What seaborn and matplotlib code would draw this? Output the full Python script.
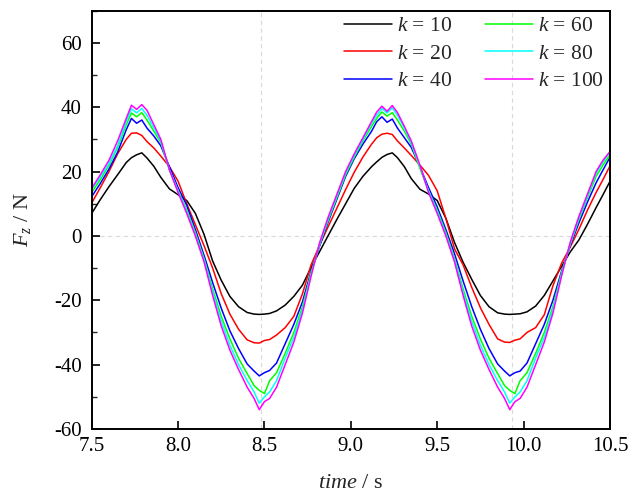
import matplotlib
matplotlib.use("Agg")
import matplotlib.pyplot as plt
import numpy as np
import pandas as pd
import seaborn as sns
from matplotlib.ticker import MultipleLocator

# ---------------- data ----------------
time = [7.50, 7.55, 7.60, 7.65, 7.70, 7.73, 7.76, 7.79, 7.82, 7.86, 7.90, 7.95,
        8.00, 8.05, 8.10, 8.15, 8.20, 8.25, 8.30, 8.35, 8.40, 8.44, 8.47, 8.50,
        8.53, 8.57, 8.62, 8.67, 8.72, 8.77, 8.82, 8.87, 8.92,
        8.97, 9.02, 9.07, 9.12,
        9.15, 9.18, 9.21, 9.24, 9.27, 9.31, 9.35, 9.40, 9.45, 9.50, 9.55, 9.60,
        9.65, 9.70, 9.75, 9.80, 9.85, 9.89, 9.92, 9.95, 9.98, 10.02, 10.07, 10.12,
        10.17, 10.22, 10.27, 10.32, 10.37, 10.42, 10.46, 10.50]

fz_k10 = [7.0, 11.3, 15.3, 19.0, 22.8, 24.3, 25.2, 25.8, 24.2, 21.6, 18.2, 14.6,
          12.8, 11.0, 7.0, 0.5, -7.8, -13.8, -18.8, -22.0, -23.8, -24.3, -24.4, -24.3,
          -24.1, -23.3, -21.5, -18.8, -15.3, -9.8, -4.8, 0.2, 5.2,
          10.0, 14.8, 18.5, 21.5,
          23.0, 24.4, 25.3, 25.8, 24.3, 21.5, 17.8, 14.5, 13.0, 11.0, 5.5, -2.0,
          -8.2, -13.5, -18.5, -22.0, -23.9, -24.3, -24.4, -24.3, -24.2, -23.6, -21.8, -18.5,
          -14.0, -9.5, -5.0, -1.3, 3.6, 8.8, 12.8, 16.9]

fz_k20 = [10.2, 15.0, 20.0, 25.5, 30.0, 31.9, 32.0, 31.2, 29.3, 27.3, 24.8, 21.5,
          17.0, 10.0, 3.5, -3.0, -10.0, -18.0, -24.3, -29.0, -32.3, -33.2, -33.3, -32.5,
          -32.2, -30.8, -28.5, -25.0, -18.0, -9.0, -2.8, 3.0, 8.7,
          14.4, 19.8, 24.5, 28.5,
          30.5, 31.6, 31.9, 31.5, 29.5, 27.3, 25.0, 22.0, 18.8, 14.0, 5.5, -4.0,
          -9.0, -16.0, -22.3, -27.5, -32.0, -33.0, -33.1, -32.4, -32.0, -30.0, -28.5, -24.5,
          -15.5, -8.5, -3.5, 2.0, 8.0, 13.5, 17.5, 21.7]

fz_k40 = [12.2, 16.3, 20.8, 26.0, 33.0, 36.5, 35.0, 36.0, 33.5, 31.0, 28.0, 21.5,
          15.0, 9.5, 2.0, -6.0, -14.5, -22.5, -29.5, -35.0, -39.8, -42.0, -43.5, -42.5,
          -41.8, -39.5, -33.5, -27.5, -20.5, -11.0, -3.0, 4.5, 11.5,
          18.5, 24.0, 28.5, 32.5,
          35.5, 37.0, 35.3, 36.3, 33.5, 30.5, 27.5, 21.5, 15.0, 9.0, 2.0, -5.5,
          -14.0, -22.0, -29.0, -35.0, -39.8, -42.0, -43.5, -42.5, -42.0, -39.5, -33.5, -27.5,
          -20.0, -11.0, -3.0, 4.0, 10.5, 16.5, 20.5, 24.4]

fz_k60 = [13.5, 17.5, 22.0, 27.5, 34.5, 38.2, 37.0, 38.3, 36.0, 32.5, 29.0, 20.5,
          14.0, 8.0, 1.0, -7.0, -16.5, -25.0, -32.0, -38.0, -42.8, -46.5, -48.0, -49.0,
          -45.0, -42.5, -36.5, -30.0, -22.0, -11.5, -2.5, 5.0, 12.0,
          19.0, 24.5, 29.5, 34.0,
          36.5, 38.5, 37.2, 38.3, 36.0, 32.5, 28.5, 21.0, 14.0, 8.0, 1.0, -7.0,
          -16.5, -25.0, -32.0, -38.0, -42.8, -46.5, -48.0, -49.0, -45.0, -42.5, -36.5, -30.0,
          -22.0, -11.5, -2.5, 5.0, 12.0, 18.5, 22.0, 25.2]

fz_k80 = [14.5, 18.2, 22.5, 28.0, 35.5, 39.5, 38.2, 39.6, 37.5, 33.5, 29.5, 20.5,
          14.0, 7.5, 0.5, -7.5, -17.5, -26.5, -34.0, -40.0, -45.0, -48.5, -52.0, -50.0,
          -48.5, -45.0, -38.0, -31.5, -23.0, -12.0, -2.5, 5.5, 12.5,
          19.5, 25.0, 30.0, 35.0,
          37.5, 39.6, 38.2, 39.8, 37.5, 33.5, 29.0, 21.5, 14.0, 7.5, 0.5, -7.5,
          -17.5, -26.5, -34.0, -40.0, -45.0, -48.5, -52.0, -50.0, -48.5, -45.0, -38.0, -31.5,
          -23.0, -12.0, -2.5, 5.5, 12.5, 19.5, 23.0, 26.0]

fz_k100 = [14.8, 19.0, 23.5, 29.5, 36.5, 40.6, 39.3, 40.8, 39.0, 34.5, 30.0, 20.5,
           13.5, 7.0, 0.0, -8.0, -18.5, -28.0, -35.5, -41.5, -47.0, -50.5, -54.0, -51.5,
           -50.5, -47.0, -40.0, -33.0, -24.0, -12.5, -2.0, 6.0, 13.0,
           20.0, 25.5, 30.5, 35.5,
           38.5, 40.3, 38.7, 40.5, 38.3, 34.0, 29.5, 22.0, 13.5, 7.0, 0.0, -8.0,
           -18.5, -28.0, -35.5, -41.5, -47.0, -50.5, -54.0, -51.5, -50.5, -47.0, -40.0, -33.0,
           -24.0, -12.5, -2.0, 6.0, 13.0, 20.0, 23.5, 26.2]

k_values = [10, 20, 40, 60, 80, 100]
series = [fz_k10, fz_k20, fz_k40, fz_k60, fz_k80, fz_k100]
line_colors = ["#000000", "#FF0000", "#0000FF", "#00FF00", "#00FFFF", "#FF00FF"]

x_ticks = [7.5, 8.0, 8.5, 9.0, 9.5, 10.0, 10.5]
y_ticks = [-60, -40, -20, 0, 20, 40, 60]
grid_x = [8.48, 9.935]
grid_y = [0]

# ---------------- style ----------------
sns.set_theme(style="ticks")
plt.rcParams['font.family'] = ['Liberation Serif', 'DejaVu Serif']
plt.rcParams['mathtext.fontset'] = 'custom'
plt.rcParams['mathtext.rm'] = 'Liberation Serif'
plt.rcParams['mathtext.it'] = 'Liberation Serif:italic'
plt.rcParams['axes.unicode_minus'] = False

labels = [f"$k$ = {k}" for k in k_values]
rows = []
for lab, vals in zip(labels, series):
    for t, v in zip(time, vals):
        rows.append({"time": t, "Fz": v, "k": lab})
df = pd.DataFrame(rows)
palette = dict(zip(labels, line_colors))

fig = plt.figure(figsize=(6.36, 5.0), dpi=100)
ax = fig.add_axes([0.1442, 0.142, 0.8148, 0.8368])

for gx in grid_x:
    ax.axvline(gx, color="#d9d9d9", lw=0.8, ls=(0, (4, 3)), zorder=0)
for gy in grid_y:
    ax.axhline(gy, color="#d9d9d9", lw=0.8, ls=(0, (4, 3)), zorder=0)

sns.lineplot(data=df, x="time", y="Fz", hue="k", hue_order=labels,
             palette=palette, estimator=None, linewidth=1.1, ax=ax)

ax.set_xlim(7.5, 10.5)
ax.set_ylim(-60, 70)
ax.set_xticks(x_ticks)
ax.set_xticklabels([f"{v:.1f}" for v in x_ticks])
ax.set_yticks(y_ticks)
ax.set_yticklabels([str(v) for v in y_ticks])
ax.yaxis.set_minor_locator(MultipleLocator(10))

ax.tick_params(axis="both", which="major", direction="in", length=6,
               width=1.2, labelsize=15, top=False, right=False,
               colors="black")
ax.tick_params(axis="x", which="major", pad=6)
ax.tick_params(axis="y", which="major", pad=7)
ax.tick_params(axis="y", which="minor", direction="in", length=3.5,
               width=1.0, left=True, right=False)
ax.tick_params(axis="x", which="minor", bottom=False, top=False)

for sp in ax.spines.values():
    sp.set_visible(True)
    sp.set_linewidth(1.4)
    sp.set_color("black")

ax.set_xlabel("$time$ / s", fontsize=16, labelpad=13)
ax.set_ylabel("$F_z$ / N", fontsize=16, labelpad=15)

handles, _ = ax.get_legend_handles_labels()
ax.legend(handles, labels, ncol=2, loc="upper right", frameon=False,
          fontsize=15.5, handlelength=2.2, columnspacing=1.55,
          handletextpad=0.25, labelspacing=0.34, borderaxespad=0.0,
          borderpad=0.27)

fig.savefig("out.png", dpi=100)
